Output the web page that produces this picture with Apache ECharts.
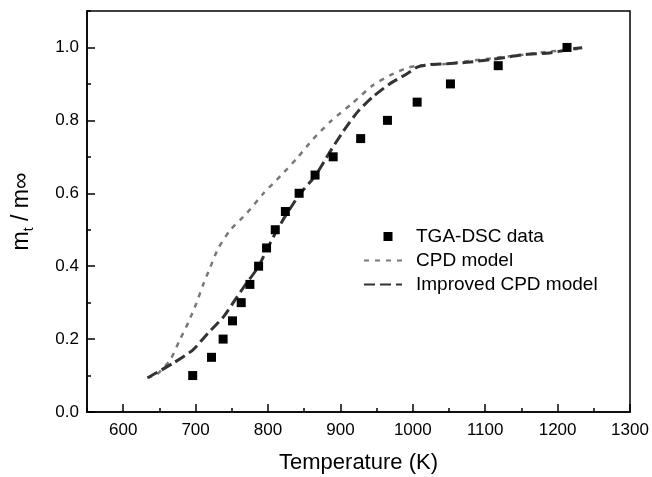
<!DOCTYPE html>
<html>
<head>
<meta charset="utf-8">
<script src="https://cdn.jsdelivr.net/npm/echarts@6/dist/echarts.min.js"></script>
<style>html,body{margin:0;padding:0;background:#fff}#c{width:652px;height:477px}</style>
</head>
<body>
<div id="c"></div>
<script>
// Data
var tgaT = [696, 722, 738, 751, 763, 775, 787, 798, 810, 824, 843, 865, 890, 928, 965, 1006, 1052, 1118, 1213];
var tgaV = [0.10, 0.15, 0.20, 0.25, 0.30, 0.35, 0.40, 0.45, 0.50, 0.55, 0.60, 0.65, 0.70, 0.75, 0.80, 0.85, 0.90, 0.95, 1.00];

var cpdT = [633, 647, 665, 678, 690, 701, 710, 720, 731, 747, 771, 793, 817, 840, 862, 888, 916, 944, 968, 992, 1007, 1028, 1047, 1079, 1116, 1152, 1185, 1227, 1234];
var cpdV = [0.094, 0.104, 0.143, 0.197, 0.246, 0.298, 0.347, 0.396, 0.448, 0.497, 0.546, 0.598, 0.647, 0.696, 0.748, 0.800, 0.846, 0.895, 0.923, 0.944, 0.950, 0.953, 0.955, 0.963, 0.972, 0.980, 0.988, 0.996, 0.999];

var impT = [634, 641, 669, 696, 717, 738, 754, 768, 786, 799, 812, 826, 844, 865, 886, 904, 924, 945, 968, 992, 1007, 1024, 1047, 1079, 1116, 1152, 1189, 1221, 1234];
var impV = [0.094, 0.102, 0.134, 0.170, 0.216, 0.260, 0.306, 0.347, 0.396, 0.448, 0.497, 0.544, 0.598, 0.647, 0.715, 0.770, 0.824, 0.865, 0.900, 0.928, 0.947, 0.953, 0.955, 0.960, 0.969, 0.980, 0.985, 0.996, 0.999];

var xMajor = [600, 700, 800, 900, 1000, 1100, 1200, 1300];
var yMajor = [0, 0.2, 0.4, 0.6, 0.8, 1.0];

function zip(a, b) { return a.map(function (v, i) { return [v, b[i]]; }); }

var FONT = 'Liberation Sans, Arial, sans-serif';
var chart = echarts.init(document.getElementById('c'), null, { renderer: 'canvas' });

var baseAxis = {
  axisLine: { show: true, lineStyle: { color: '#000', width: 1.5 } },
  splitLine: { show: false }
};
var hidden = { color: 'rgba(0,0,0,0)', borderColor: 'rgba(0,0,0,0)', borderWidth: 0 };

chart.setOption({
  animation: false,
  backgroundColor: '#fff',
  textStyle: { fontFamily: FONT },
  grid: { left: 87, right: 22, top: 11, bottom: 65, outerBoundsMode: 'none', containLabel: false,
          show: true, borderColor: '#000', borderWidth: 1.5 },
  legend: {
    orient: 'vertical', left: 363, top: 227, itemGap: 5, padding: 0,
    itemWidth: 38, itemHeight: 14,
    textStyle: { fontSize: 19, lineHeight: 19, color: '#000', fontFamily: FONT, padding: [0, 0, 0, 9] },
    data: [
      { name: 'TGA-DSC data', icon: 'path://M0,0M38,14M19.5,2.5h9v9h-9z', itemStyle: { color: '#000', opacity: 1 } },
      { name: 'CPD model', itemStyle: hidden },
      { name: 'Improved CPD model', itemStyle: hidden }
    ]
  },
  xAxis: [
    Object.assign({}, baseAxis, {
      type: 'value', min: 550, max: 1300, interval: 50,
      name: 'Temperature (K)', nameLocation: 'middle', nameGap: 40,
      nameTextStyle: { fontSize: 22, color: '#000', fontFamily: FONT },
      axisTick: { show: true, inside: true, length: 4, lineStyle: { color: '#000', width: 1.5 } },
      axisLabel: {
        color: '#000', fontSize: 17, margin: 10, fontFamily: FONT,
        formatter: function (v) { return (Math.round(v) % 100 === 0 && v >= 600) ? String(Math.round(v)) : ''; }
      }
    }),
    {
      type: 'value', min: 550, max: 1300, position: 'bottom',
      axisLine: { show: false }, splitLine: { show: false }, axisLabel: { show: false },
      axisTick: { show: true, inside: true, length: 8, customValues: xMajor, lineStyle: { color: '#000', width: 1.5 } }
    }
  ],
  yAxis: [
    Object.assign({}, baseAxis, {
      type: 'value', min: 0, max: 1.1, interval: 0.1,
      name: '{a|m}{b|t}{a| / m∞}', nameLocation: 'middle', nameGap: 51, nameRotate: 90,
      nameTextStyle: {
        color: '#000', fontFamily: FONT,
        rich: {
          a: { fontSize: 23, lineHeight: 28, color: '#000', fontFamily: FONT },
          b: { fontSize: 14, lineHeight: 14, verticalAlign: 'bottom', color: '#000', fontFamily: FONT }
        }
      },
      axisTick: { show: true, inside: true, length: 4, lineStyle: { color: '#000', width: 1.5 } },
      axisLabel: {
        color: '#000', fontSize: 17, margin: 8, fontFamily: FONT,
        formatter: function (v) { var k = Math.round(v * 10); return (k % 2 === 0 && k <= 10) ? (k / 10).toFixed(1) : ''; }
      }
    }),
    {
      type: 'value', min: 0, max: 1.1, position: 'left',
      axisLine: { show: false }, splitLine: { show: false }, axisLabel: { show: false },
      axisTick: { show: true, inside: true, length: 8, customValues: yMajor, lineStyle: { color: '#000', width: 1.5 } }
    }
  ],
  series: [
    {
      name: 'TGA-DSC data', type: 'scatter', symbol: 'rect', symbolSize: 9,
      itemStyle: { color: '#000', opacity: 1 }, data: zip(tgaT, tgaV), z: 5
    },
    {
      name: 'CPD model', type: 'line', symbol: 'none', smooth: 0.2,
      lineStyle: { color: '#787878', width: 2.5, type: [5, 6] },
      itemStyle: { color: '#787878' },
      data: zip(cpdT, cpdV)
    },
    {
      name: 'Improved CPD model', type: 'line', symbol: 'none', smooth: 0.2,
      lineStyle: { color: '#333', width: 3, type: [11, 5] },
      itemStyle: { color: '#333' },
      data: zip(impT, impV)
    }
  ]
});
</script>
</body>
</html>
